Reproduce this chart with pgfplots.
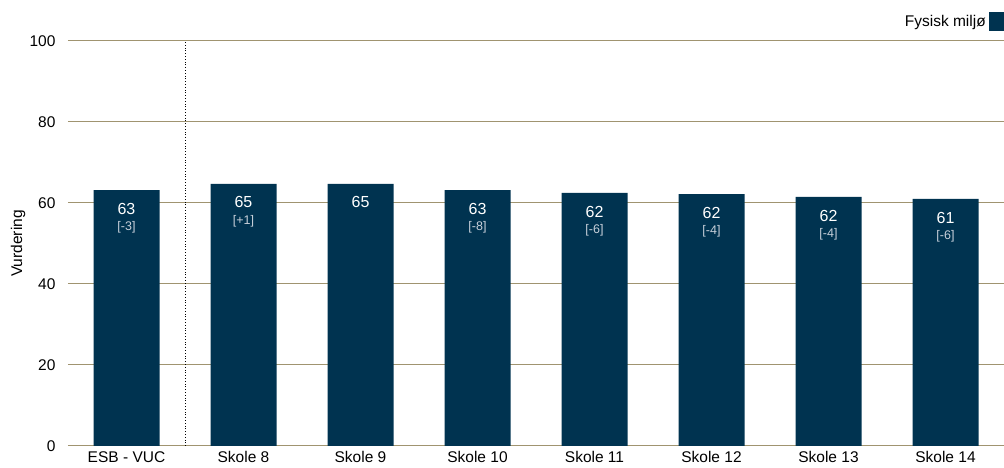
\documentclass[border=0pt]{standalone}
\usepackage{pgfplots}
\pgfplotsset{compat=1.18}
\usepackage{fontspec}
\setmainfont{Liberation Sans}
\definecolor{barc}{HTML}{003350}
\definecolor{gridc}{HTML}{A09470}
\definecolor{subc}{HTML}{C8D0DA}

\begin{document}
\begin{tikzpicture}
\begin{axis}[
  scale only axis, width=936pt, height=405pt,
  xmin=-0.5, xmax=7.5, ymin=0, ymax=100,
  ytick={0,20,...,100},
  xtick={0,...,7},
  xticklabels={ESB - VUC,Skole 8,Skole 9,Skole 10,Skole 11,Skole 12,Skole 13,Skole 14},
  ymajorgrids, major grid style={gridc, line width=1pt},
  axis line style={draw=none},
  major tick length=0pt,
  tick label style={font=\fontsize{15.5}{18}\selectfont},
  /pgf/number format/assume math mode=true,
  yticklabel style={xshift=-9pt},
  xticklabel style={yshift=-2pt},
  ylabel={Vurdering},
  ylabel style={at={(axis description cs:0,0.5)}, anchor=center, yshift=50pt, font=\fontsize{15.5}{18}\selectfont},
  legend style={at={(1,1)}, anchor=south east, yshift=10pt, draw=none, fill=none, inner sep=0pt,
    font=\fontsize{15.5}{18}\selectfont, nodes={inner sep=3pt}},
  legend plot pos=right,
  ybar, bar width=66pt,
  clip=false,
]
\addplot[draw=none, fill=barc,
  legend image code/.code={\fill[barc] (0pt,-9.5pt) rectangle (15pt,9.5pt);}] coordinates {
  (0,63.2) (1,64.7) (2,64.7) (3,63.2) (4,62.5) (5,62.2) (6,61.5) (7,61.0)};
\legend{Fysisk miljø}

\draw[dotted, black, line width=0.8pt] (axis cs:0.5,0) -- (axis cs:0.5,100);

\tikzset{val/.style={anchor=center, text=white, font=\fontsize{16}{18}\selectfont, inner sep=0pt},
         sub/.style={anchor=center, text=subc, font=\fontsize{12.5}{14}\selectfont, inner sep=0pt}}
\node[val, yshift=-19pt] at (axis cs:0,63.2) {63};
\node[sub, yshift=-37pt] at (axis cs:0,63.2) {[-3]};
\node[val, yshift=-18pt] at (axis cs:1,64.7) {65};
\node[sub, yshift=-37pt] at (axis cs:1,64.7) {[+1]};
\node[val, yshift=-18pt] at (axis cs:2,64.7) {65};
\node[val, yshift=-19pt] at (axis cs:3,63.2) {63};
\node[sub, yshift=-37pt] at (axis cs:3,63.2) {[-8]};
\node[val, yshift=-19pt] at (axis cs:4,62.5) {62};
\node[sub, yshift=-37pt] at (axis cs:4,62.5) {[-6]};
\node[val, yshift=-19pt] at (axis cs:5,62.2) {62};
\node[sub, yshift=-37pt] at (axis cs:5,62.2) {[-4]};
\node[val, yshift=-19pt] at (axis cs:6,61.5) {62};
\node[sub, yshift=-37pt] at (axis cs:6,61.5) {[-4]};
\node[val, yshift=-19pt] at (axis cs:7,61.0) {61};
\node[sub, yshift=-37pt] at (axis cs:7,61.0) {[-6]};
\end{axis}
\pgfresetboundingbox
\path ([xshift=-68pt,yshift=-22pt]current axis.south west) rectangle ([yshift=41pt]current axis.north east);
\end{tikzpicture}
\end{document}
